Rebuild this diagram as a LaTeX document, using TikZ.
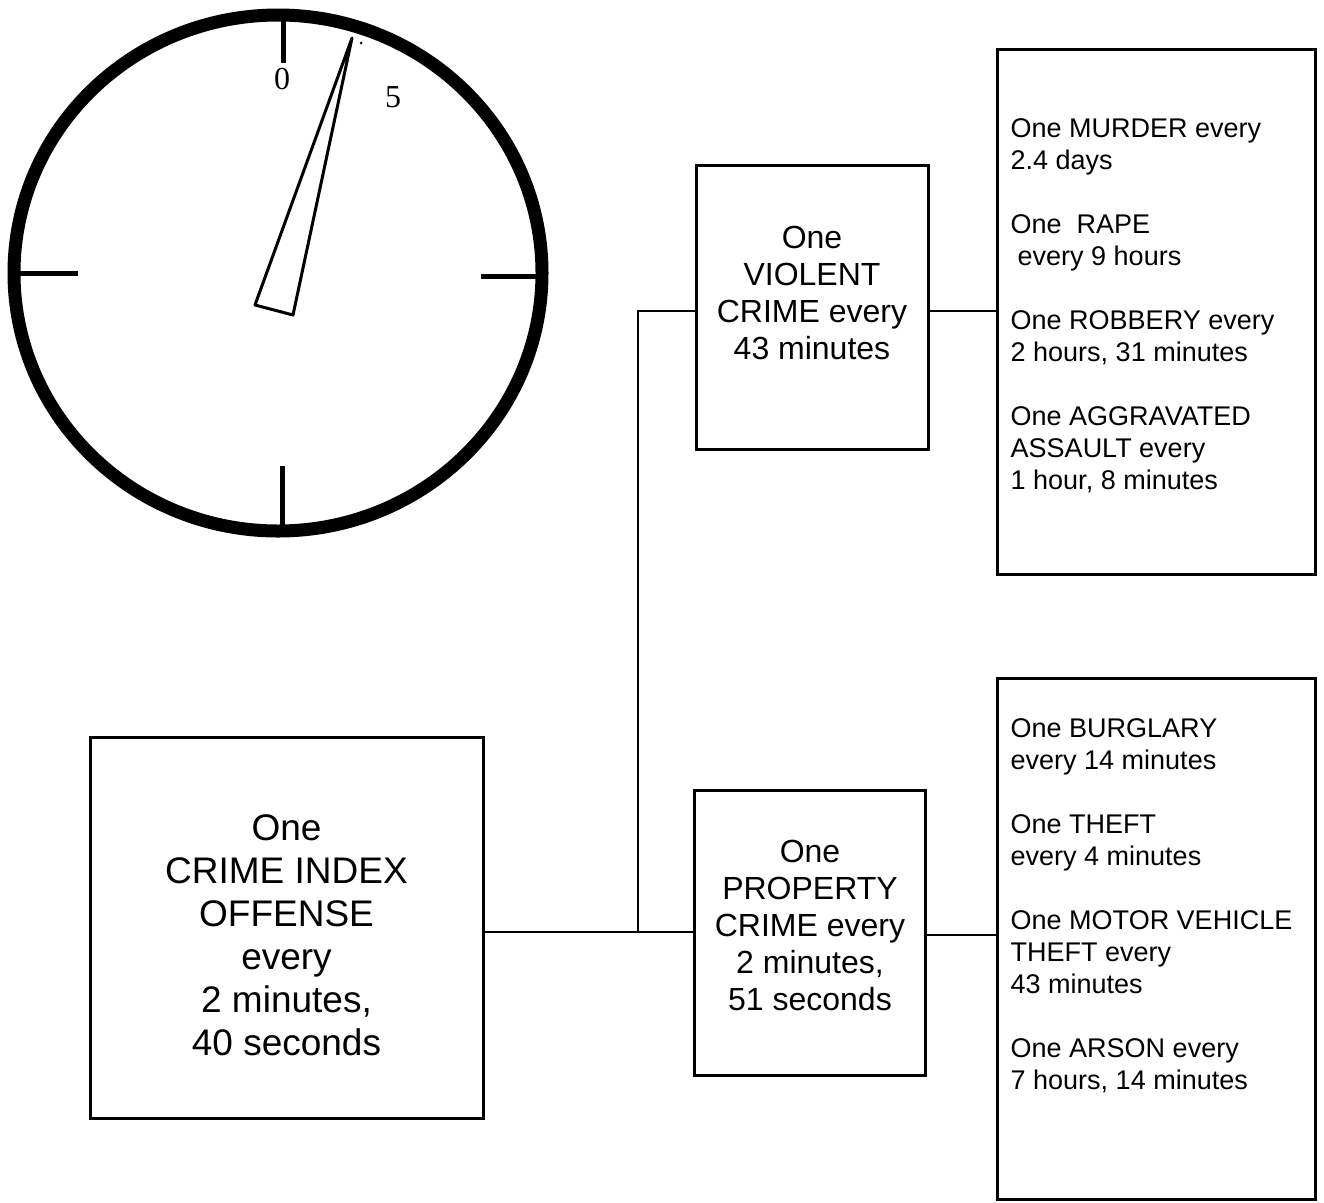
\documentclass[tikz,border=0pt]{standalone}
\usepackage{fontspec}
\setmainfont{Liberation Sans}
\newfontfamily\dialfont{Liberation Serif}
\begin{document}
\begin{tikzpicture}[x=1pt,y=-1pt,
  frame/.style={draw, line width=3pt, rectangle, inner sep=0pt},
  conn/.style={line width=2.8pt},
  bigtxt/.style={font=\fontsize{37}{43}\selectfont, align=center, inner sep=0pt},
  midtxt/.style={font=\fontsize{32}{37}\selectfont, align=center, inner sep=0pt},
  listtxt/.style={font=\fontsize{27}{32}\selectfont, align=left, inner sep=0pt, anchor=north west},
  dialnum/.style={font=\dialfont\fontsize{32}{36}\selectfont, inner sep=0pt},
  tick/.style={line width=5pt},
]
\useasboundingbox (0,0) rectangle (1324,1202);

% ---- clock ----
\draw[line width=13pt] (278,273) ellipse [x radius=264pt, y radius=258pt];
\draw[tick] (283,15) -- (283,63);
\draw[tick] (282,466) -- (282,528);
\draw[tick] (14,273) -- (78,273);
\draw[tick] (481,276) -- (542,276);
\draw[line width=3pt, line join=round] (255,305) -- (352,38) -- (293,315) -- cycle;
\fill (361,43) circle (1.5pt);
\node[dialnum] (zero) at (282,79) {0};
\node[dialnum] (five) at (393,97) {5};

% ---- boxes ----
\node[frame, minimum width=393pt, minimum height=381pt] (crime) at (286.5,927.5) {};
\node[frame, minimum width=232pt, minimum height=284pt] (violent) at (812,307) {};
\node[frame, minimum width=231pt, minimum height=285pt] (property) at (809.5,932.5) {};
\node[frame, minimum width=318pt, minimum height=525pt] (vlist) at (1156,311.5) {};
\node[frame, minimum width=318pt, minimum height=521.5pt] (plist) at (1156,938.75) {};

% ---- box texts ----
\node[bigtxt] (crimetxt) at (286.5,935.5) {One\\CRIME INDEX\\OFFENSE\\every\\2 minutes,\\40 seconds};
\node[midtxt] (violenttxt) at (812,292.5) {One\\VIOLENT\\CRIME every\\43 minutes};
\node[midtxt] (propertytxt) at (810,925.5) {One\\PROPERTY\\CRIME every\\2 minutes,\\51 seconds};
\node[listtxt] (vlisttxt) at (1010.5,118) {One MURDER every\\2.4 days\\[32pt]One\ \ RAPE\\\hspace*{7pt}every 9 hours\\[32pt]One ROBBERY every\\2 hours, 31 minutes\\[32pt]One AGGRAVATED\\ASSAULT every\\1 hour, 8 minutes};
\node[listtxt] (plisttxt) at (1010.5,718) {One BURGLARY\\every 14 minutes\\[32pt]One THEFT\\every 4 minutes\\[32pt]One MOTOR VEHICLE\\THEFT every\\43 minutes\\[32pt]One ARSON every\\7 hours, 14 minutes};

% ---- connectors ----
\coordinate (j) at (638,932);
\coordinate (vy) at (0,311);
\coordinate (py) at (0,935);
\draw[conn] (crime.east |- j) -- (property.west |- j);
\draw[conn] (j) |- (violent.west |- vy);
\draw[conn] (violent.east |- vy) -- (vlist.west |- vy);
\draw[conn] (property.east |- py) -- (plist.west |- py);
\end{tikzpicture}
\end{document}
